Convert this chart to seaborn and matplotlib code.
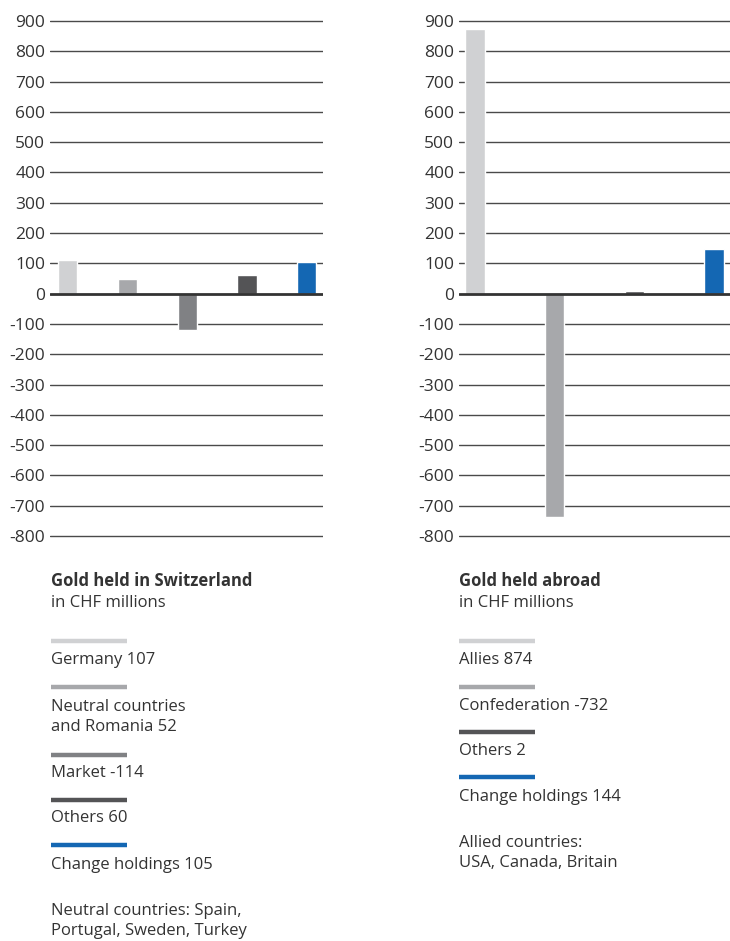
import matplotlib
matplotlib.use("Agg")
import matplotlib.pyplot as plt
import seaborn as sns
import pandas as pd

sns.set_theme(style="white")
plt.rcParams['font.family'] = ['Open Sans', 'DejaVu Sans']

# ---- data ----
swiss_categories = ["Germany", "Neutral countries", "Market", "Others", "Change holdings"]
swiss_values = [110, 50, -121, 63, 104]          # bar heights as drawn
swiss_labels = ["Germany 107", "Neutral countries\nand Romania 52", "Market -114",
                "Others 60", "Change holdings 105"]
abroad_categories = ["Allies", "Confederation", "Others", "Change holdings"]
abroad_values = [872, -738, 10, 146]             # bar heights as drawn
abroad_labels = ["Allies 874", "Confederation -732", "Others 2", "Change holdings 144"]
swiss_colors = ["#d0d1d3", "#a7a8ab", "#808184", "#545456", "#1467b3"]
abroad_colors = ["#d0d1d3", "#a7a8ab", "#545456", "#1467b3"]
y_ticks = list(range(-800, 1000, 100))

swiss_title = "Gold held in Switzerland"
abroad_title = "Gold held abroad"
unit = "in CHF millions"
swiss_note = "Neutral countries: Spain,\nPortugal, Sweden, Turkey"
abroad_note = "Allied countries:\nUSA, Canada, Britain"

W, H = 730, 941
fig = plt.figure(figsize=(W / 100, H / 100), dpi=100)
TXT = "#333333"

def px_axes(x0, y0, x1, y1):
    return fig.add_axes([x0 / W, 1 - y1 / H, (x1 - x0) / W, (y1 - y0) / H])

def draw_panel(ax, cats, vals, colors, xlim, width):
    df = pd.DataFrame({"cat": cats, "val": vals})
    sns.barplot(data=df, x="cat", y="val", hue="cat", palette=colors,
                order=cats, hue_order=cats, width=width, legend=False,
                saturation=1, ax=ax, zorder=3)
    ax.set_xlim(*xlim)
    ax.set_ylim(-805, 905)
    ax.set_yticks(y_ticks)
    ax.set_yticklabels([str(t) for t in y_ticks])
    ax.set_xticks([])
    ax.set_xlabel("")
    ax.set_ylabel("")
    for s in ax.spines.values():
        s.set_visible(False)
    for t in y_ticks:
        if t != 0:
            ax.axhline(t, color="#4a4a4a", lw=1.0, zorder=1)
    ax.axhline(0, color="#333333", lw=2.0, zorder=4)
    ax.tick_params(axis="y", length=0, pad=3.5, labelsize=12.5, labelcolor=TXT)
    ax.patch.set_alpha(0)

ax1 = px_axes(50, 19.5, 323, 537.5)
draw_panel(ax1, swiss_categories, swiss_values, swiss_colors, (-0.29, 4.27), 0.32)

ax2 = px_axes(459, 19.5, 730, 537.5)
draw_panel(ax2, abroad_categories, abroad_values, abroad_colors, (-0.2, 3.2), 0.24)

def ftext(x, y, s, bold=False):
    fig.text(x / W, 1 - y / H, s, ha="left", va="center", fontsize=12,
             color=TXT, fontweight="bold" if bold else "normal", linespacing=1.3)

def swatch(x, y, c):
    fig.add_artist(plt.Line2D([x / W, (x + 76) / W], [1 - y / H, 1 - y / H],
                              color=c, lw=3.2, solid_capstyle="butt"))

# left legend
ftext(51, 581, swiss_title, bold=True)
ftext(51, 603, unit)
sw_y = [641, 687, 755, 800, 845]
tx_y = [660, 717, 773, 818, 865]
for c, lab, sy, ty in zip(swiss_colors, swiss_labels, sw_y, tx_y):
    swatch(51, sy, c)
    ftext(51, ty, lab)
ftext(51, 921, swiss_note)

# right legend
ftext(459, 581, abroad_title, bold=True)
ftext(459, 603, unit)
sw_y2 = [641, 687, 732, 777]
tx_y2 = [660, 706, 751, 797]
for c, lab, sy, ty in zip(abroad_colors, abroad_labels, sw_y2, tx_y2):
    swatch(459, sy, c)
    ftext(459, ty, lab)
ftext(459, 853, abroad_note)

fig.savefig("out.png", dpi=100)
